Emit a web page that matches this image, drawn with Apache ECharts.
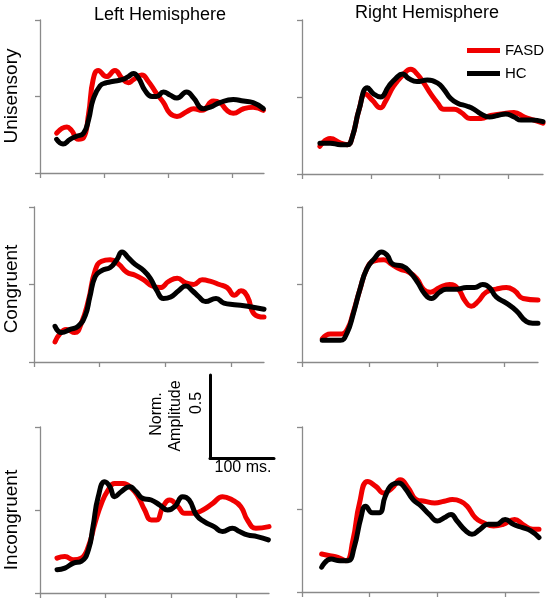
<!DOCTYPE html>
<html><head><meta charset="utf-8">
<script src="https://cdn.jsdelivr.net/npm/echarts@6/dist/echarts.min.js"></script>
<style>html,body{margin:0;padding:0;background:#fff}#c{width:549px;height:600px}</style>
</head><body><div id="c"></div><script>
const conditions = ['Unisensory', 'Congruent', 'Incongruent'];
const hemispheres = ['Left Hemisphere', 'Right Hemisphere'];
const groups = ['FASD', 'HC'];
const timeTicks = [0, 100, 200, 300];
const ampTicks = [0, 0.5, 1];

const uniLeftFASD = [[26,0.26],[42,0.30],[49,0.28],[60,0.22],[68,0.23],[76,0.39],[83,0.61],[91,0.67],[104,0.63],[117,0.67],[128,0.62],[138,0.59],[146,0.61],[159,0.64],[169,0.60],[182,0.52],[193,0.46],[203,0.39],[214,0.37],[229,0.40],[240,0.42],[253,0.41],[271,0.47],[281,0.46],[292,0.41],[302,0.39],[318,0.42],[333,0.43],[349,0.41]];
const uniLeftHC = [[26,0.22],[36,0.19],[47,0.22],[57,0.24],[68,0.26],[76,0.35],[83,0.48],[94,0.57],[104,0.59],[115,0.60],[128,0.61],[138,0.63],[146,0.65],[154,0.62],[164,0.54],[175,0.50],[182,0.50],[193,0.53],[203,0.51],[214,0.49],[229,0.53],[240,0.49],[255,0.42],[266,0.43],[281,0.46],[302,0.48],[318,0.47],[333,0.46],[349,0.42]];

const uniRightFASD = [[26,0.18],[41,0.23],[56,0.20],[66,0.19],[73,0.24],[83,0.42],[92,0.52],[102,0.48],[114,0.43],[121,0.47],[133,0.57],[146,0.64],[158,0.68],[167,0.65],[177,0.59],[187,0.52],[197,0.46],[206,0.42],[221,0.42],[231,0.40],[245,0.36],[260,0.36],[274,0.38],[289,0.39],[308,0.40],[323,0.37],[337,0.35],[350,0.33]];
const uniRightHC = [[26,0.20],[41,0.20],[56,0.19],[66,0.19],[73,0.24],[83,0.42],[95,0.56],[104,0.52],[114,0.50],[126,0.57],[136,0.62],[146,0.65],[155,0.62],[167,0.60],[182,0.61],[197,0.59],[206,0.55],[216,0.49],[226,0.46],[240,0.44],[250,0.42],[260,0.39],[272,0.37],[284,0.38],[296,0.39],[308,0.37],[318,0.35],[333,0.35],[350,0.34]];

const conLeftFASD = [[32,0.13],[39,0.18],[49,0.21],[62,0.19],[72,0.25],[83,0.40],[93,0.59],[103,0.65],[116,0.66],[129,0.63],[141,0.58],[154,0.56],[167,0.53],[180,0.49],[192,0.48],[205,0.52],[218,0.54],[231,0.51],[243,0.50],[256,0.53],[269,0.52],[282,0.50],[294,0.48],[305,0.43],[315,0.46],[325,0.42],[335,0.31],[350,0.29]];
const conLeftHC = [[32,0.23],[42,0.19],[55,0.21],[67,0.23],[78,0.30],[85,0.42],[93,0.55],[103,0.59],[116,0.61],[126,0.66],[134,0.71],[144,0.67],[154,0.63],[167,0.59],[177,0.54],[187,0.46],[197,0.41],[208,0.42],[220,0.46],[231,0.49],[241,0.46],[251,0.42],[261,0.39],[277,0.41],[289,0.38],[305,0.37],[325,0.36],[350,0.34]];

const conRightFASD = [[30,0.15],[42,0.18],[57,0.18],[67,0.21],[76,0.32],[86,0.47],[96,0.60],[106,0.65],[121,0.66],[133,0.63],[145,0.60],[158,0.58],[170,0.54],[180,0.47],[190,0.45],[204,0.48],[219,0.50],[232,0.47],[241,0.40],[251,0.36],[261,0.39],[273,0.45],[288,0.47],[303,0.48],[315,0.46],[328,0.41],[350,0.40]];
const conRightHC = [[30,0.14],[42,0.14],[57,0.14],[67,0.19],[76,0.31],[86,0.47],[96,0.60],[108,0.67],[118,0.71],[126,0.69],[135,0.63],[148,0.62],[160,0.58],[172,0.51],[182,0.44],[192,0.41],[204,0.45],[214,0.47],[229,0.47],[244,0.48],[256,0.48],[268,0.50],[278,0.48],[288,0.42],[303,0.38],[318,0.33],[333,0.26],[342,0.25],[350,0.25]];

const incLeftFASD = [[26,0.21],[38,0.22],[51,0.20],[63,0.21],[74,0.28],[84,0.42],[94,0.54],[104,0.62],[114,0.66],[127,0.66],[140,0.63],[150,0.58],[160,0.50],[170,0.44],[178,0.44],[188,0.52],[198,0.56],[211,0.52],[221,0.48],[234,0.48],[249,0.50],[264,0.54],[279,0.58],[294,0.56],[307,0.52],[317,0.44],[330,0.39],[350,0.40]];
const incLeftHC = [[26,0.14],[38,0.15],[51,0.18],[63,0.19],[74,0.26],[81,0.40],[89,0.58],[99,0.67],[107,0.64],[114,0.58],[124,0.61],[137,0.64],[147,0.61],[157,0.57],[170,0.56],[183,0.53],[195,0.50],[206,0.52],[218,0.58],[228,0.56],[239,0.47],[251,0.43],[266,0.40],[279,0.37],[294,0.39],[305,0.37],[317,0.35],[332,0.34],[349,0.32]];

const incRightFASD = [[29,0.23],[41,0.22],[53,0.21],[65,0.19],[75,0.31],[85,0.54],[97,0.67],[109,0.64],[121,0.60],[133,0.63],[145,0.68],[157,0.63],[169,0.56],[181,0.55],[196,0.54],[210,0.55],[222,0.56],[234,0.55],[244,0.52],[256,0.45],[268,0.42],[283,0.40],[297,0.41],[314,0.44],[326,0.41],[341,0.38],[350,0.38]];
const incRightHC = [[29,0.15],[43,0.20],[56,0.19],[68,0.19],[77,0.27],[87,0.45],[94,0.52],[104,0.48],[114,0.48],[123,0.58],[133,0.65],[143,0.66],[152,0.63],[164,0.56],[176,0.52],[188,0.47],[200,0.43],[210,0.45],[220,0.47],[229,0.43],[242,0.37],[251,0.35],[263,0.38],[275,0.41],[287,0.41],[300,0.44],[312,0.41],[326,0.39],[338,0.37],[350,0.33]];

const panelData = [
  [uniLeftFASD, uniLeftHC], [uniRightFASD, uniRightHC],
  [conLeftFASD, conLeftHC], [conRightFASD, conRightHC],
  [incLeftFASD, incLeftHC], [incRightFASD, incRightHC]
];

const FONT = '"Liberation Sans", Arial, sans-serif';
const AXIS_COLOR = '#8a8a8a';
const colors = ['#f00000', '#000000'];

const gridBoxes = [
  {left: 40, top: 20, width: 224, height: 153},
  {left: 302, top: 20, width: 241, height: 154},
  {left: 34, top: 207, width: 230, height: 155},
  {left: 302, top: 207, width: 236, height: 155},
  {left: 40, top: 427, width: 229, height: 166},
  {left: 302, top: 427, width: 237, height: 165},
  {left: 210, top: 375, width: 64, height: 83}
];

const grid = gridBoxes.map(b => Object.assign({containLabel: false}, b));
const xAxis = [], yAxis = [], series = [];
for (let i = 0; i < 6; i++) {
  xAxis.push({
    type: 'value', gridIndex: i, min: 0, max: 350, interval: 100,
    axisLine: {show: true, lineStyle: {color: AXIS_COLOR, width: 1.3}},
    axisTick: {show: true, length: 5, customValues: timeTicks, lineStyle: {color: AXIS_COLOR, width: 1.3}},
    axisLabel: {show: false}, splitLine: {show: false}
  });
  yAxis.push({
    type: 'value', gridIndex: i, min: ampTicks[0], max: ampTicks[2], interval: 0.5,
    axisLine: {show: true, onZero: false, lineStyle: {color: AXIS_COLOR, width: 1.3}},
    axisTick: {show: true, length: 5, lineStyle: {color: AXIS_COLOR, width: 1.3}},
    axisLabel: {show: false}, splitLine: {show: false}
  });
  panelData[i].forEach((d, g) => {
    series.push({
      type: 'line', name: groups[g], xAxisIndex: i, yAxisIndex: i, data: d,
      smooth: 0.5, symbol: 'none', z: 2 + g,
      lineStyle: {color: colors[g], width: 5, cap: 'round', join: 'round'}, itemStyle: {color: colors[g]}
    });
  });
}
// scale bar axes
xAxis.push({type: 'value', gridIndex: 6, min: 0, max: 100,
  axisLine: {show: true, lineStyle: {color: '#000', width: 3}},
  axisTick: {show: false}, axisLabel: {show: false}, splitLine: {show: false}});
yAxis.push({type: 'value', gridIndex: 6, min: 0, max: 0.5,
  axisLine: {show: true, onZero: false, lineStyle: {color: '#000', width: 3}},
  axisTick: {show: false}, axisLabel: {show: false}, splitLine: {show: false}});

function txt(text, x, y, size, rot) {
  return {type: 'text', x: x, y: y, rotation: rot || 0,
    style: {text: text, font: size + 'px ' + FONT, fill: '#000', align: 'center', verticalAlign: 'middle'}};
}
const graphic = [
  txt(hemispheres[0], 160, 15, 18),
  txt(hemispheres[1], 427, 13, 18),
  txt(conditions[0], 12, 96, 19, Math.PI / 2),
  txt(conditions[1], 12, 289, 19, Math.PI / 2),
  txt(conditions[2], 12, 520, 19, Math.PI / 2),
  txt('Norm.', 157, 414, 16, Math.PI / 2),
  txt('Amplitude', 176, 416, 16, Math.PI / 2),
  txt('0.5', 197, 403, 16, Math.PI / 2),
  txt('100 ms.', 243, 468, 16)
];

const chart = echarts.init(document.getElementById('c'), null, {renderer: 'canvas'});
chart.setOption({
  animation: false,
  backgroundColor: '#fff',
  grid: grid, xAxis: xAxis, yAxis: yAxis, series: series,
  legend: {
    data: groups, orient: 'vertical', left: 462, top: 38,
    icon: 'rect', itemWidth: 33, itemHeight: 5, itemGap: 8,
    textStyle: {fontSize: 15, color: '#000', fontFamily: FONT}
  },
  graphic: graphic
});
</script></body></html>
